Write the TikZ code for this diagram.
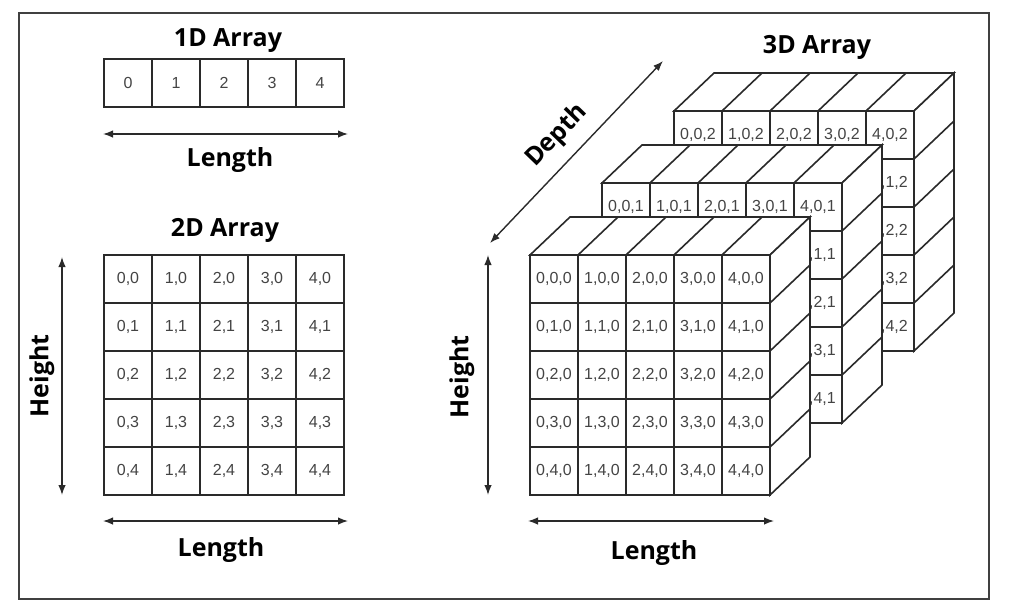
\documentclass[tikz,border=0pt]{standalone}
\usepackage{fontspec}
\setmainfont{Liberation Sans}
\newfontfamily\titlefont{Open Sans}
\usetikzlibrary{arrows.meta}
\definecolor{gridgray}{HTML}{2A2A2A}
\definecolor{labelgray}{HTML}{444444}
\definecolor{framegray}{HTML}{404040}
\begin{document}
\begin{tikzpicture}[x=1pt,y=-1pt,
    >={Latex[length=10pt,width=7.5pt]},
    cellline/.style={line width=1.6pt, draw=gridgray},
    celltext/.style={text=labelgray, font=\fontsize{16}{16}\selectfont},
    heading/.style={font=\titlefont\bfseries\fontsize{25}{25}\selectfont},
    dimarrow/.style={<->, line width=1.4pt, draw=gridgray}]
        \fill[white] (0,0) rectangle (1010,614);
        \useasboundingbox (0,0) rectangle (1010,614);
        \draw[line width=1.8pt, draw=framegray] (19,13) rectangle (989,599);

        % 1D array
        \node[heading] (title1) at (228,41) {1D Array};
        \draw[cellline] (104,59) rectangle (344,107);
        \foreach \i in {1,...,4} \draw[cellline] (104+48*\i,59) -- (104+48*\i,107);
        \foreach \i in {0,...,4} \node[celltext] (c1-\i) at (128+48*\i,83) {\i};
        \coordinate (len1a) at (103,134);
        \coordinate (len1b) at (348,134);
        \draw[dimarrow] (len1a) -- (len1b);
        \node[heading] (length1) at (230,160) {Length};

        % 2D array
        \node[heading] (title2) at (225,230) {2D Array};
        \draw[cellline] (104,255) rectangle (344,495);
        \foreach \i in {1,...,4} {
            \draw[cellline] (104+48*\i,255) -- (104+48*\i,495);
            \draw[cellline] (104,255+48*\i) -- (344,255+48*\i);
        }
        \foreach \i in {0,...,4}
            \foreach \j in {0,...,4}
                \node[celltext] (c2-\i-\j) at (128+48*\i,279+48*\j) {\i,\j};
        \coordinate (hgt2a) at (62,257);
        \coordinate (hgt2b) at (62,495);
        \draw[dimarrow] (hgt2a) -- (hgt2b);
        \node[heading, rotate=90] (height2) at (42,376) {Height};
        \coordinate (len2a) at (103,521);
        \coordinate (len2b) at (348,521);
        \draw[dimarrow] (len2a) -- (len2b);
        \node[heading] (length2) at (221,550) {Length};

        % 3D array, back layer first
        \node[heading] (title3) at (817,47) {3D Array};
        \foreach \k in {2,1,0} {
            \pgfmathsetmacro\X{530+72*\k}
            \pgfmathsetmacro\Y{255-72*\k}
            \begin{scope}[shift={(\X,\Y)}]
                \filldraw[fill=white, cellline] (0,0) -- (40,-38) -- (280,-38) -- (240,0) -- cycle;
                \filldraw[fill=white, cellline] (240,0) -- (280,-38) -- (280,202) -- (240,240) -- cycle;
                \filldraw[fill=white, cellline] (0,0) rectangle (240,240);
                \foreach \i in {1,...,4} {
                    \draw[cellline] (48*\i,0) -- ++(40,-38);
                    \draw[cellline] (240,48*\i) -- ++(40,-38);
                    \draw[cellline] (48*\i,0) -- (48*\i,240);
                    \draw[cellline] (0,48*\i) -- (240,48*\i);
                }
                \foreach \i in {0,...,4}
                    \foreach \j in {0,...,4}
                        \node[celltext] (c3-\i-\j-\k) at (24+48*\i,24+48*\j) {\i,\j,\k};
            \end{scope}
        }
        \coordinate (dep3a) at (490,243);
        \coordinate (dep3b) at (663,61);
        \draw[dimarrow] (dep3a) -- (dep3b);
        \node[heading, rotate=46] (depth3) at (557,136) {Depth};
        \coordinate (hgt3a) at (488,255);
        \coordinate (hgt3b) at (488,495);
        \draw[dimarrow] (hgt3a) -- (hgt3b);
        \node[heading, rotate=90] (height3) at (462,377) {Height};
        \coordinate (len3a) at (528,521);
        \coordinate (len3b) at (774,521);
        \draw[dimarrow] (len3a) -- (len3b);
        \node[heading] (length3) at (654,553) {Length};
\end{tikzpicture}
\end{document}
